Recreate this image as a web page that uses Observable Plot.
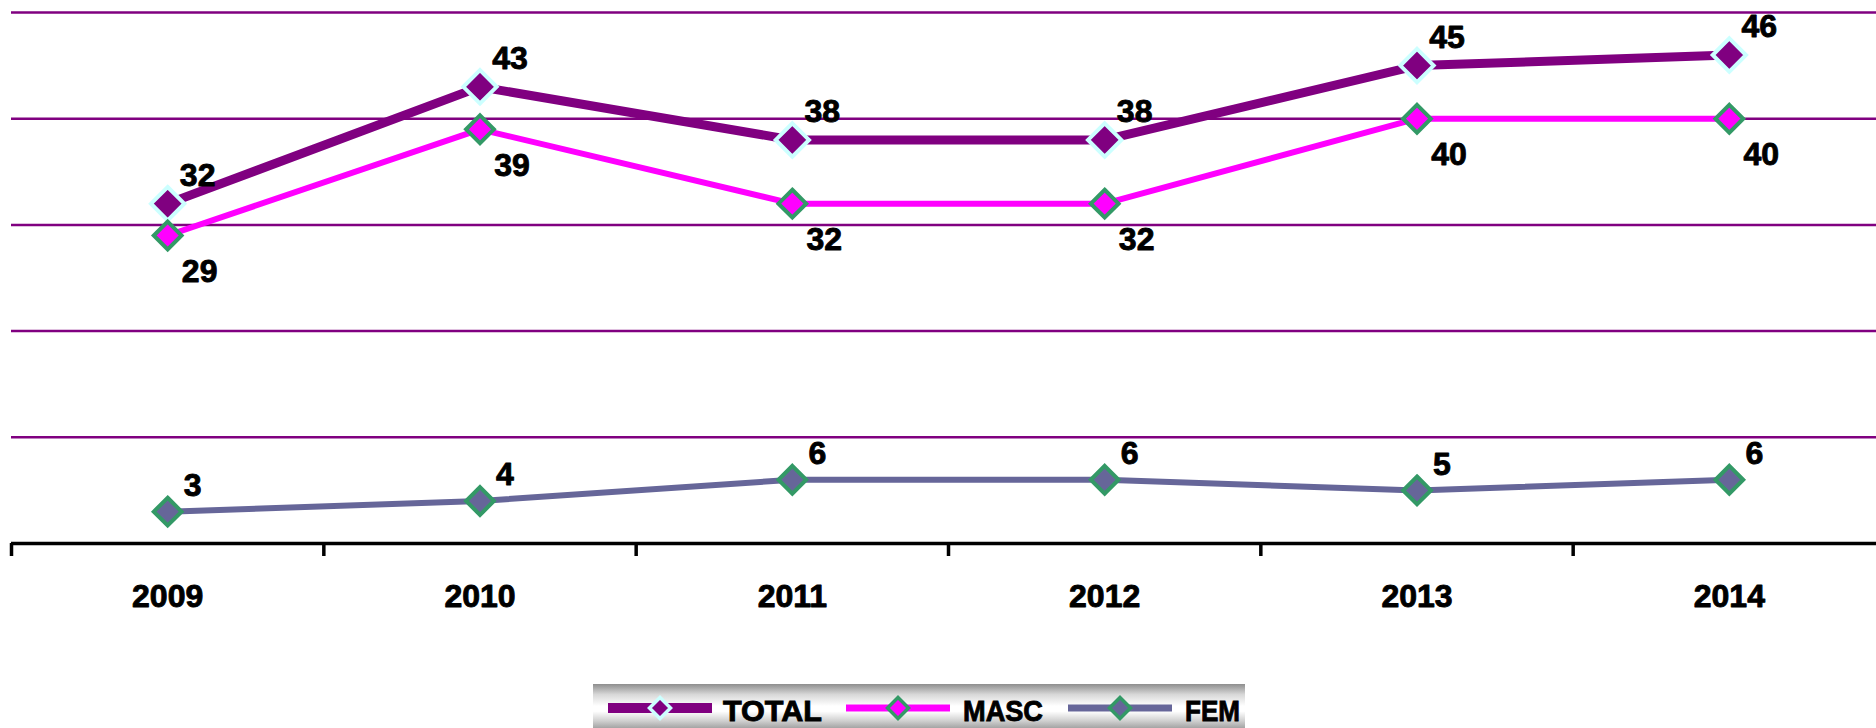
<!DOCTYPE html>
<html>
<head>
<meta charset="utf-8">
<script src="https://cdn.jsdelivr.net/npm/d3@7"></script>
<script src="https://cdn.jsdelivr.net/npm/@observablehq/plot@0.6"></script>
<style>
  html, body { margin: 0; padding: 0; background: #fff; overflow: hidden; }
  #wrap { position: relative; width: 1876px; height: 728px; overflow: hidden; }
  #legend { position: absolute; left: 593px; top: 684px; width: 652px; height: 44px;
    background: linear-gradient(to bottom, #8e8e8e 0%, #d8d8d8 24%, #ffffff 50%, #ffffff 62%, #cfcfcf 84%, #a4a4a4 100%); }
  #legend svg { overflow: visible; display: block; }
  .leg { font-family: "Liberation Sans", Arial, sans-serif; font-weight: bold; }
</style>
</head>
<body>
<div id="wrap"><div id="chart"></div><div id="legend"></div></div>
<script>
const years = [2009, 2010, 2011, 2012, 2013, 2014];
const total = [32, 43, 38, 38, 45, 46];
const masc  = [29, 39, 32, 32, 40, 40];
const fem   = [3, 4, 6, 6, 5, 6];
const gridValues = [10, 20, 30, 40, 50];
const seriesNames = ["TOTAL", "MASC", "FEM"];

const series = [
  {name: seriesNames[0], values: total, color: "#800080", edge: "#ccffff", width: 9, r: 15, dx: 30, dy: -28},
  {name: seriesNames[1], values: masc,  color: "#ff00ff", edge: "#339966", width: 6, r: 12.5, dx: 32, dy: 36},
  {name: seriesNames[2], values: fem,   color: "#666699", edge: "#339966", width: 6, r: 12.5, dx: 25, dy: -26}
];
const rows = s => years.map((y, i) => ({year: y, value: s.values[i]}));
const boundaries = [years[0] - 0.5, ...years.map(y => y + 0.5)];
const textStyle = {fontSize: 32, fontWeight: "bold", fill: "#000", stroke: "#000", strokeWidth: 0.9};

const marks = [
  Plot.ruleY(gridValues, {stroke: "#800080", strokeWidth: 2.5}),
  Plot.ruleY([0], {stroke: "#000", strokeWidth: 3.5}),
  Plot.axisX({ticks: boundaries, tickSize: 13, tickFormat: () => "", label: null, stroke: "#000", strokeWidth: 3.5}),
  Plot.text(years, {x: d => d, y: 0, dy: 53, text: d => String(d), ...textStyle})
];
for (const s of series) {
  marks.push(Plot.line(rows(s), {x: "year", y: "value", stroke: s.color, strokeWidth: s.width}));
}
for (const s of series) {
  marks.push(Plot.dot(rows(s), {x: "year", y: "value", symbol: "diamond2", r: s.r, fill: s.color, stroke: s.edge, strokeWidth: 4}));
}
for (const s of series) {
  marks.push(Plot.text(rows(s), {x: "year", y: "value", text: d => String(d.value), dx: s.dx, dy: s.dy, ...textStyle}));
}

const chart = Plot.plot({
  width: 1876,
  height: 684,
  marginTop: 12,
  marginBottom: 141,
  marginLeft: 11,
  marginRight: 0,
  x: {type: "linear", domain: [years[0] - 0.5, years[years.length - 1] + 0.5], range: [11, 1885], axis: null},
  y: {domain: [0, 50], axis: null},
  style: {fontFamily: '"Liberation Sans", Arial, sans-serif', background: "#fff", overflow: "visible"},
  marks
});
document.getElementById("chart").appendChild(chart);

// Legend
const ns = "http://www.w3.org/2000/svg";
const lg = document.createElementNS(ns, "svg");
lg.setAttribute("width", 652); lg.setAttribute("height", 44);
const items = [
  {s: series[0], x0: 15, text: 130, tw: 99, lw: 10},
  {s: series[1], x0: 253, text: 370, tw: 80, lw: 7},
  {s: series[2], x0: 475, text: 592, tw: 55, lw: 7}
];
for (const it of items) {
  const ln = document.createElementNS(ns, "line");
  ln.setAttribute("x1", it.x0); ln.setAttribute("x2", it.x0 + 104);
  ln.setAttribute("y1", 24); ln.setAttribute("y2", 24);
  ln.setAttribute("stroke", it.s.color); ln.setAttribute("stroke-width", it.lw);
  lg.appendChild(ln);
  const cx = it.x0 + 52, h = 10.5;
  const p = document.createElementNS(ns, "path");
  p.setAttribute("d", `M${cx},${24 - h}L${cx + h},24L${cx},${24 + h}L${cx - h},24Z`);
  p.setAttribute("fill", it.s.color); p.setAttribute("stroke", it.s.edge); p.setAttribute("stroke-width", 3.5);
  lg.appendChild(p);
  const t = document.createElementNS(ns, "text");
  t.setAttribute("x", it.text); t.setAttribute("y", 37);
  t.setAttribute("class", "leg"); t.setAttribute("font-size", 30); t.setAttribute("fill", "#000");
  t.setAttribute("stroke", "#000"); t.setAttribute("stroke-width", 0.9);
  t.setAttribute("textLength", it.tw); t.setAttribute("lengthAdjust", "spacingAndGlyphs");
  t.textContent = it.s.name;
  lg.appendChild(t);
}
document.getElementById("legend").appendChild(lg);
</script>
</body>
</html>
